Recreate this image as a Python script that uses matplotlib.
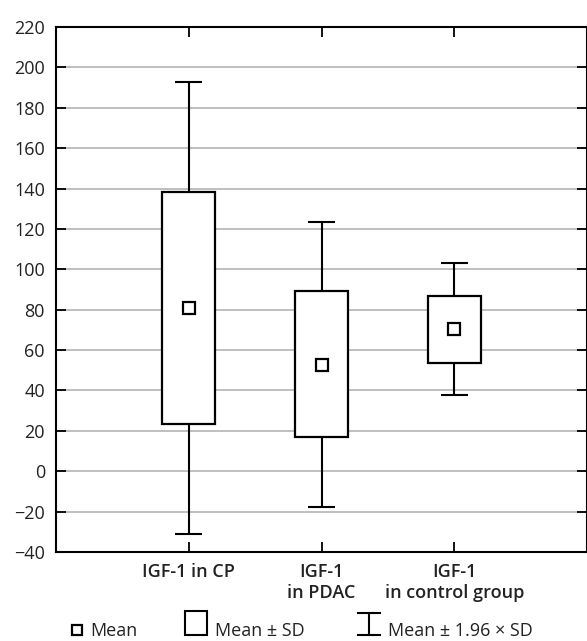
import matplotlib
matplotlib.use("Agg")
import matplotlib.pyplot as plt
from matplotlib.lines import Line2D
from matplotlib.patches import Rectangle

plt.rcParams['font.family'] = ['Open Sans', 'DejaVu Sans']

groups = ["IGF-1 in CP", "IGF-1\nin PDAC", "IGF-1\nin control group"]
means = [80.7, 52.8, 70.2]
sd_low = [23.6, 17.2, 53.6]
sd_high = [138.2, 89.4, 86.8]
ci_low = [-31.2, -17.5, 37.6]
ci_high = [192.6, 123.6, 103.0]
y_ticks = list(range(-40, 221, 20))

W, H = 587, 641
fig = plt.figure(figsize=(W / 100, H / 100), dpi=100)
ax = fig.add_axes([56 / W, 1 - 552 / H, (587 - 56) / W, (552 - 27) / H])

pos = [1, 2, 3]
ax.vlines(pos, ci_low, ci_high, color="black", lw=1.5, zorder=2)
ax.hlines(ci_low, [p - 0.1 for p in pos], [p + 0.1 for p in pos], color="black", lw=1.5, zorder=2)
ax.hlines(ci_high, [p - 0.1 for p in pos], [p + 0.1 for p in pos], color="black", lw=1.5, zorder=2)
ax.bar(pos, [h - l for h, l in zip(sd_high, sd_low)], bottom=sd_low, width=0.4,
       color="white", edgecolor="black", linewidth=1.6, zorder=3)
ax.plot(pos, means, ls="none", marker="s", ms=8, mfc="white", mec="black", mew=1.6, zorder=4)

ax.set_xlim(0, 4)
ax.set_ylim(-40, 220)
ax.set_yticks(y_ticks)
ax.set_yticklabels([str(t).replace("-", "\u2212") for t in y_ticks])
ax.set_xticks(pos)
ax.set_xticklabels(groups, fontweight="semibold", fontsize=12.5)
ax.yaxis.grid(True, color="#b4b4b4", lw=1.2, zorder=0)
ax.set_axisbelow(True)
ax.tick_params(axis="both", direction="in", length=7, width=1.3, top=True, right=True,
               labelsize=13, color="black", labelcolor="#222222")
ax.tick_params(axis="y", pad=8)
ax.tick_params(axis="x", pad=8)
for s in ax.spines.values():
    s.set_linewidth(1.5)

def px(x, y):
    return x / W, 1 - y / H

# legend
fig.add_artist(Line2D(*zip(px(77, 630)), transform=fig.transFigure, ls="none", marker="s",
                      ms=6.5, mfc="white", mec="black", mew=1.6))
x0, y0 = px(185, 635)
fig.add_artist(Rectangle((x0, y0), 22 / W, 24 / H, transform=fig.transFigure,
                         facecolor="white", edgecolor="black", lw=1.5))
for xs, ys in [((358, 380), (613, 613)), ((358, 380), (635, 635)), ((369, 369), (613, 635))]:
    fig.add_artist(Line2D([x / W for x in xs], [1 - y / H for y in ys],
                          transform=fig.transFigure, color="black", lw=1.5))
ty = 1 - 636 / H
fig.text(90 / W, ty, "Mean", fontsize=13, va="baseline", color="#222222")
fig.text(215 / W, ty, "Mean ± SD", fontsize=13, va="baseline", color="#222222")
fig.text(388 / W, ty, "Mean ± 1.96 × SD", fontsize=13, va="baseline", color="#222222")

fig.savefig("out.png", dpi=100)
